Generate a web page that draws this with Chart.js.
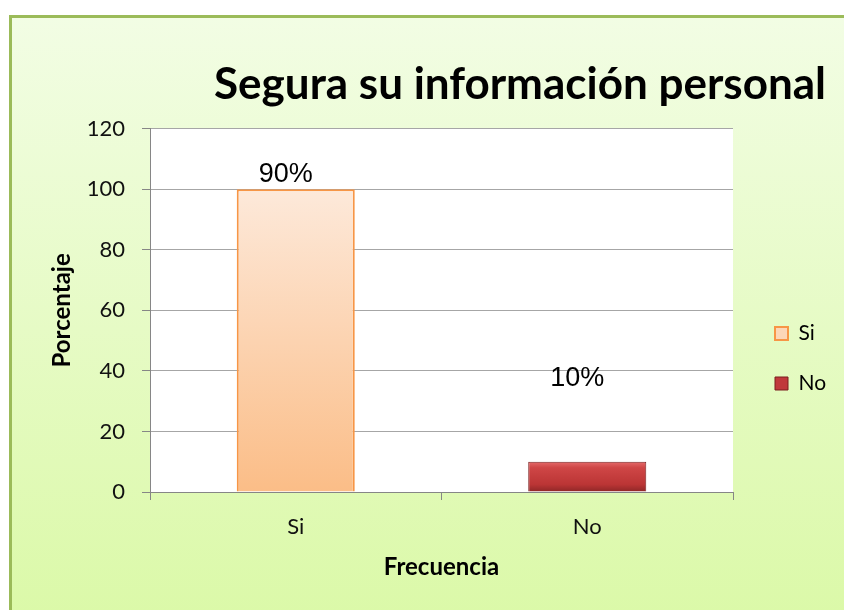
<!DOCTYPE html>
<html>
<head>
<meta charset="utf-8">
<script src="https://cdn.jsdelivr.net/npm/chart.js@4.4.1/dist/chart.umd.min.js"></script>
<style>
  html, body { margin: 0; padding: 0; width: 844px; height: 610px; overflow: hidden; background: #fff; }
  #card {
    position: absolute; left: 9px; top: 15px; width: 900px; height: 600px;
    border-left: 3px solid #9bbb59; border-top: 3px solid #9bbb59;
    background: linear-gradient(#f2fde4, #dbf9a8);
  }
  #wrap { position: absolute; left: 12px; top: 18px; }
</style>
</head>
<body>
<div id="card"></div>
<div id="wrap"><canvas id="myChart" width="814" height="681"></canvas></div>
<script>
// data
const categories = ['Si', 'No'];
const values = [100, 10];
const pctLabels = ['90%', '10%'];
// where the percentage labels sit, in axis units
const pctLabelAt = [105, 37.5];

const legendFill = ['#fcd7b8', '#c0393b'];
const legendStroke = ['#f79646', '#7a1f1f'];

function barFill(c) {
  const chart = c.chart;
  const y = chart.scales.y;
  const i = c.datasetIndex;
  if (!y || !chart.chartArea) return legendFill[i];
  const top = y.getPixelForValue(values[i]);
  const base = y.getPixelForValue(0);
  const g = chart.ctx.createLinearGradient(0, top, 0, base);
  if (i === 0) {
    g.addColorStop(0, '#fde9da');
    g.addColorStop(1, '#fbbd87');
  } else {
    g.addColorStop(0, '#e56a6a');
    g.addColorStop(0.2, '#cf4646');
    g.addColorStop(0.75, '#bb3535');
    g.addColorStop(1, '#8d2626');
  }
  return g;
}

const plotBg = {
  id: 'plotBg',
  beforeDraw(chart) {
    const { ctx, chartArea: a } = chart;
    ctx.save();
    ctx.fillStyle = '#ffffff';
    ctx.fillRect(a.left, a.top, a.width, a.height);
    ctx.restore();
  }
};

const pctText = {
  id: 'pctText',
  afterDatasetsDraw(chart) {
    const { ctx, scales } = chart;
    ctx.save();
    ctx.font = '27px "Liberation Sans", Arial, sans-serif';
    ctx.fillStyle = '#000';
    ctx.textAlign = 'center';
    ctx.textBaseline = 'middle';
    pctLabels.forEach((t, i) => {
      ctx.fillText(t, scales.x.getPixelForValue(i) - 10, scales.y.getPixelForValue(pctLabelAt[i]));
    });
    ctx.restore();
  }
};

const ctx = document.getElementById('myChart').getContext('2d');
const chart = new Chart(ctx, {
  type: 'bar',
  data: {
    labels: categories,
    datasets: categories.map((c, i) => ({
      label: c,
      data: values.map((v, j) => (j === i ? v : null)),
      backgroundColor: barFill,
      borderColor: legendStroke[i],
      borderWidth: i === 0 ? 2 : 1,
      skipNull: true,
      categoryPercentage: 1,
      barPercentage: 0.405
    }))
  },
  options: {
    responsive: false,
    animation: false,
    plugins: {
      tooltip: { enabled: false },
      title: {
        display: true,
        text: 'Segura su información personal',
        align: 'end',
        color: '#000',
        font: { family: 'Lato', size: 44, weight: 'bold' },
        padding: { top: 40, bottom: 18 }
      },
      legend: {
        position: 'right',
        maxWidth: 80,
        labels: {
          boxWidth: 13,
          boxHeight: 13,
          padding: 29,
          color: '#1a1a1a',
          font: { family: 'Lato', size: 21 },
          generateLabels(chart) {
            return chart.data.datasets.map((d, i) => ({
              text: d.label,
              fillStyle: legendFill[i],
              strokeStyle: legendStroke[i],
              lineWidth: i === 0 ? 2 : 1,
              datasetIndex: i,
              hidden: false
            }));
          }
        }
      }
    },
    scales: {
      x: {
        grid: { drawOnChartArea: false, tickLength: 8, color: '#868686', offset: true },
        border: { color: '#868686' },
        ticks: { color: '#111', padding: 14, font: { family: 'Lato', size: 22 } },
        title: {
          display: true, text: 'Frecuencia', color: '#000',
          font: { family: 'Lato', size: 24, weight: 'bold' },
          padding: { top: 0, bottom: 117 }
        },
        afterFit(s) { s.height = 207; }
      },
      y: {
        min: 0,
        max: 120,
        ticks: { stepSize: 20, color: '#111', padding: 17, font: { family: 'Lato', size: 22 } },
        grid: { color: '#a6a6a6', tickColor: '#868686', tickLength: 8 },
        border: { color: '#868686' },
        title: {
          display: true, text: 'Porcentaje', color: '#000',
          font: { family: 'Lato', size: 24, weight: 'bold' },
          padding: { top: 36, bottom: 0 }
        },
        afterFit(s) { s.width = 138; }
      },
      yr: {
        position: 'right',
        grid: { display: false },
        ticks: { display: false },
        border: { display: false },
        afterFit(s) { s.width = 13; }
      }
    }
  },
  plugins: [plotBg, pctText]
});
</script>
</body>
</html>
